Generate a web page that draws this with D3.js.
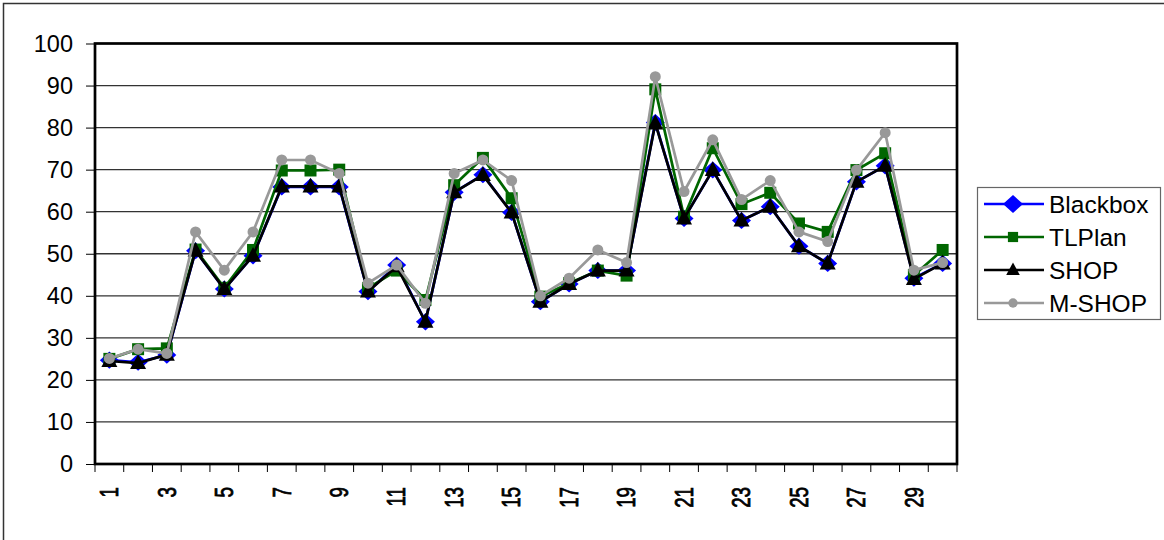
<!DOCTYPE html>
<html>
<head>
<meta charset="utf-8">
<script src="https://cdn.jsdelivr.net/npm/d3@7"></script>
<style>
  body { margin: 0; background: #fff; }
  svg { display: block; font-family: "Liberation Sans", Arial, sans-serif; }
</style>
</head>
<body>
<div id="wrapper"></div>
<script>
// data
const categories = d3.range(1, 31)
const blackbox = [24.7, 24.2, 25.9, 50.7, 41.6, 49.5, 65.9, 65.9, 65.9, 41.0,
                  47.3, 33.8, 64.6, 68.8, 59.8, 38.6, 42.8, 46.0, 46.0, 81.2,
                  58.4, 69.9, 57.9, 61.2, 51.8, 47.7, 67.1, 70.9, 44.2, 47.7]
const tlplan = [25.0, 27.3, 27.5, 51.0, 41.9, 50.9, 69.8, 69.8, 70.0, 41.8,
                46.0, 39.0, 66.3, 72.8, 63.2, 39.8, 43.0, 46.0, 44.8, 89.1,
                58.8, 75.1, 61.8, 64.5, 57.2, 55.2, 69.9, 73.9, 44.9, 50.9]
const shop = [24.5, 24.0, 26.0, 50.7, 41.6, 49.5, 66.0, 66.0, 66.0, 41.0,
              47.0, 33.8, 64.6, 68.7, 59.8, 38.6, 42.8, 46.0, 46.0, 81.0,
              58.4, 69.9, 57.9, 61.2, 51.8, 47.7, 67.1, 70.9, 44.0, 47.7]
const mshop = [25.1, 27.3, 26.3, 55.2, 46.1, 55.2, 72.3, 72.3, 69.1, 43.0,
               47.3, 38.2, 69.1, 72.3, 67.4, 40.0, 44.2, 50.9, 47.9, 92.1,
               64.8, 77.1, 62.9, 67.4, 55.2, 52.9, 69.9, 78.8, 46.1, 47.9]
const yTicks = d3.range(0, 101, 10)
const xLabels = categories.filter(c => c % 2 === 1)

const seriesList = [
  { name: "Blackbox", values: blackbox, color: "#0000ff", marker: "diamond" },
  { name: "TLPlan", values: tlplan, color: "#006600", marker: "square" },
  { name: "SHOP", values: shop, color: "#000000", marker: "triangle" },
  { name: "M-SHOP", values: mshop, color: "#999999", marker: "circle" },
]

const width = 1164
const height = 540
const plot = { left: 95, right: 957, top: 43.5, bottom: 464 }

const svg = d3.select("#wrapper").append("svg")
  .attr("width", width)
  .attr("height", height)

// outer chart frame
svg.append("rect")
  .attr("x", 3.5).attr("y", 3.5)
  .attr("width", width + 10).attr("height", height + 10)
  .attr("fill", "none")
  .attr("stroke", "#333")
  .attr("stroke-width", 1.5)

const xScale = d3.scaleBand()
  .domain(categories)
  .range([plot.left, plot.right])
const yScale = d3.scaleLinear()
  .domain([0, 100])
  .range([plot.bottom, plot.top])

// gridlines
svg.append("g")
  .selectAll("line")
  .data(yTicks.filter(t => t > 0 && t < 100))
  .join("line")
  .attr("x1", plot.left).attr("x2", plot.right)
  .attr("y1", d => yScale(d)).attr("y2", d => yScale(d))
  .attr("stroke", "#333")
  .attr("stroke-width", 1.3)

// y axis
const yAxis = svg.append("g")
  .attr("transform", `translate(${plot.left},0)`)
  .call(d3.axisLeft(yScale).tickValues(yTicks).tickSize(9).tickPadding(13))
yAxis.select(".domain").remove()
yAxis.selectAll(".tick line").attr("stroke", "#000").attr("stroke-width", 1)
yAxis.selectAll("text")
  .attr("font-size", 23.5)
  .attr("fill", "#000")
  .attr("font-family", "Liberation Sans, Arial, sans-serif")

// x ticks at category boundaries
const boundaries = categories.map(c => xScale(c)).concat([plot.right])
svg.append("g")
  .selectAll("line")
  .data(boundaries)
  .join("line")
  .attr("x1", d => d).attr("x2", d => d)
  .attr("y1", plot.bottom).attr("y2", plot.bottom + 8)
  .attr("stroke", "#000")
  .attr("stroke-width", 1)

// x labels, rotated
svg.append("g")
  .selectAll("text")
  .data(xLabels)
  .join("text")
  .attr("transform", d => `translate(${xScale(d) + xScale.bandwidth() / 2},487) rotate(-90) scale(0.75,1)`)
  .attr("text-anchor", "end")
  .attr("dy", "0.35em")
  .attr("font-size", 25)
  .attr("stroke", "#000")
  .attr("stroke-width", 0.8)
  .text(d => d)

// plot frame
svg.append("rect")
  .attr("x", plot.left).attr("y", plot.top)
  .attr("width", plot.right - plot.left)
  .attr("height", plot.bottom - plot.top)
  .attr("fill", "none")
  .attr("stroke", "#000")
  .attr("stroke-width", 2.7)

function markerPath(type, s) {
  if (type === "diamond") return `M0,${-s * 0.9}L${s},0L0,${s * 0.9}L${-s},0Z`
  if (type === "square") return `M${-s},${-s}H${s}V${s}H${-s}Z`
  if (type === "triangle") return `M0,${-s * 1.1}L${s},${s * 0.75}L${-s},${s * 0.75}Z`
  return d3.symbol(d3.symbolCircle, Math.PI * s * s)()
}
const markerSize = { diamond: 9.5, square: 6, triangle: 8, circle: 5.5 }

const lineGenerator = d3.line()
  .x((d, i) => xScale(categories[i]) + xScale.bandwidth() / 2)
  .y(d => yScale(d))

seriesList.forEach(s => {
  const g = svg.append("g")
  g.append("path")
    .attr("d", lineGenerator(s.values))
    .attr("fill", "none")
    .attr("stroke", s.color)
    .attr("stroke-width", 2.7)
  g.selectAll("path.m")
    .data(s.values)
    .join("path")
    .attr("class", "m")
    .attr("transform", (d, i) => `translate(${xScale(categories[i]) + xScale.bandwidth() / 2},${yScale(d)})`)
    .attr("d", markerPath(s.marker, markerSize[s.marker]))
    .attr("fill", s.color)
})

// legend
const legend = svg.append("g").attr("transform", "translate(977,187)")
legend.append("rect")
  .attr("x", 0.5).attr("y", 0.5)
  .attr("width", 183).attr("height", 132)
  .attr("fill", "#fff")
  .attr("stroke", "#666")
  .attr("stroke-width", 1.2)
const items = legend.selectAll("g.item")
  .data(seriesList)
  .join("g")
  .attr("class", "item")
  .attr("transform", (d, i) => `translate(0,${17 + i * 33})`)
items.append("line")
  .attr("x1", 7).attr("x2", 67)
  .attr("stroke", d => d.color)
  .attr("stroke-width", 2.5)
items.append("path")
  .attr("transform", "translate(36,0)")
  .attr("d", d => markerPath(d.marker, d.marker === "diamond" ? 10 : markerSize[d.marker] * 0.85))
  .attr("fill", d => d.color)
items.append("text")
  .attr("x", 72)
  .attr("dy", "0.36em")
  .attr("font-size", 24.5)
  .text(d => d.name)
</script>
</body>
</html>
